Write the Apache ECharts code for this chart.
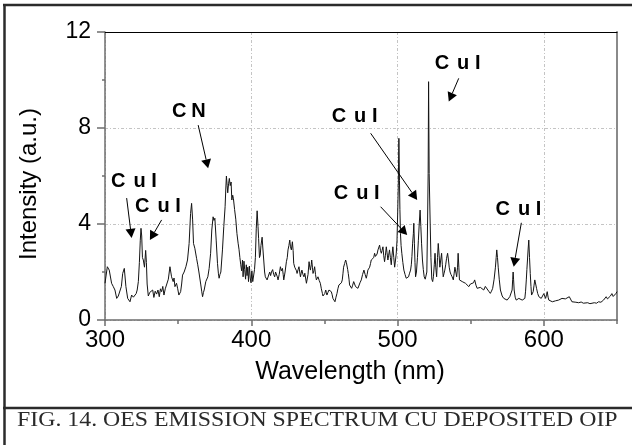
<!DOCTYPE html>
<html>
<head>
<meta charset="utf-8">
<script src="https://cdn.jsdelivr.net/npm/echarts@6/dist/echarts.min.js"></script>
<style>
  html, body { margin: 0; padding: 0; background: #fff; }
  #chart { width: 632px; height: 445px; }
</style>
</head>
<body>
<div id="chart"></div>
<script>
// OES spectrum: wavelength (nm) and intensity (a.u.)
const wavelength = [
  300.0, 301.6, 302.9, 304.5, 305.6, 306.8, 308.0, 309.1, 310.2, 311.2, 312.1, 313.2, 314.3, 315.5, 316.3, 317.1, 318.2, 319.4, 320.5, 321.3,
  322.0, 322.8, 323.5, 324.1, 324.6, 325.1, 325.6, 326.2, 327.0, 327.8, 328.3, 328.8, 329.6, 330.6, 331.9, 332.6, 333.4, 334.3, 335.3, 336.2,
  337.1, 337.9, 338.7, 339.5, 340.3, 341.2, 342.1, 343.3, 344.4, 345.5, 346.6, 347.2, 347.8, 348.9, 349.7, 350.5, 351.7, 352.4, 353.0, 354.1,
  355.3, 356.4, 357.5, 358.5, 359.2, 359.9, 360.5, 361.4, 362.0, 362.6, 363.4, 364.2, 365.5, 366.1, 366.7, 367.3, 367.8, 368.9, 369.6, 370.3,
  371.2, 372.2, 373.0, 373.9, 374.5, 375.1, 376.0, 376.9, 377.5, 378.0, 378.6, 379.2, 380.3, 381.2, 382.1, 382.6, 383.0, 383.5, 383.9, 384.5,
  385.0, 385.6, 386.2, 386.7, 387.3, 387.8, 388.6, 389.4, 390.2, 391.0, 391.6, 392.2, 392.8, 393.4, 394.0, 394.4, 395.0, 395.5, 396.1, 396.6,
  397.1, 397.6, 398.1, 398.7, 399.3, 399.8, 400.4, 401.0, 401.6, 402.2, 402.8, 403.4, 404.0, 404.6, 405.0, 405.6, 406.1, 406.6, 407.4, 407.9,
  408.5, 409.1, 409.6, 410.2, 410.8, 411.6, 412.6, 413.2, 413.8, 414.6, 415.3, 416.0, 416.6, 417.2, 417.8, 418.3, 419.1, 419.9, 420.6, 421.3,
  421.8, 422.2, 423.1, 424.0, 424.6, 425.1, 425.7, 426.3, 426.8, 427.4, 428.1, 428.6, 429.0, 429.7, 430.4, 430.9, 431.3, 432.0, 432.6, 433.1,
  433.6, 434.1, 434.6, 435.3, 436.0, 436.6, 437.2, 437.7, 438.1, 438.8, 439.5, 440.0, 440.4, 441.0, 441.3, 441.8, 442.2, 442.8, 443.3, 443.9,
  444.5, 445.1, 445.6, 446.4, 447.2, 447.9, 448.6, 449.0, 449.5, 450.2, 450.9, 451.3, 451.7, 452.4, 453.1, 453.9, 454.7, 455.3, 455.8, 456.5,
  457.2, 457.9, 458.6, 459.2, 459.9, 460.4, 460.9, 461.6, 462.2, 462.7, 463.1, 463.8, 464.5, 465.0, 465.4, 465.9, 466.3, 466.8, 467.2, 467.9,
  468.6, 469.3, 470.0, 470.6, 471.3, 472.1, 472.9, 473.5, 474.3, 475.2, 476.1, 477.0, 477.8, 478.6, 479.2, 479.7, 480.3, 480.9, 481.5, 482.0,
  482.6, 483.1, 483.7, 484.3, 484.9, 485.5, 486.0, 486.6, 487.1, 487.7, 488.3, 488.9, 489.4, 490.0, 490.5, 491.1, 491.7, 492.3, 492.8, 493.4,
  493.9, 494.5, 495.1, 495.7, 496.2, 496.8, 497.4, 498.0, 498.6, 499.1, 499.6, 500.1, 500.5, 500.9, 501.3, 501.6, 502.0, 502.4, 502.9, 503.6,
  504.3, 505.1, 505.9, 506.7, 507.5, 508.2, 508.9, 509.4, 509.8, 510.3, 510.8, 511.1, 511.5, 511.9, 512.3, 512.9, 513.6, 514.2, 514.8, 515.4,
  515.9, 516.4, 517.0, 517.6, 518.2, 518.9, 519.5, 520.0, 520.5, 520.9, 521.2, 521.6, 522.3, 522.8, 523.4, 524.0, 524.5, 525.1, 525.6, 526.1,
  526.7, 527.3, 527.8, 528.4, 528.9, 529.5, 530.1, 530.6, 531.2, 531.8, 532.3, 532.9, 533.5, 534.2, 534.8, 535.3, 535.9, 536.5, 537.3, 538.1,
  538.7, 539.2, 539.8, 540.4, 541.0, 541.4, 541.9, 542.3, 543.2, 544.2, 545.3, 546.4, 547.5, 548.7, 549.8, 551.0, 551.9, 552.7, 553.6, 554.4,
  555.5, 556.6, 557.8, 558.9, 560.0, 561.2, 562.3, 563.4, 564.2, 565.0, 566.0, 566.9, 567.4, 567.8, 568.3, 568.8, 569.5, 570.3, 571.5, 572.6,
  573.8, 574.9, 575.8, 576.7, 577.5, 578.3, 578.7, 579.0, 579.3, 579.7, 580.4, 581.1, 582.0, 582.9, 584.1, 585.2, 586.1, 587.0, 587.5, 588.0,
  588.4, 588.8, 589.3, 589.7, 590.2, 590.7, 591.2, 591.6, 592.2, 592.7, 593.3, 593.8, 594.4, 595.0, 595.8, 596.6, 597.4, 598.2, 599.1, 600.0,
  600.6, 601.2, 601.8, 602.3, 602.9, 603.4, 604.6, 605.8, 606.9, 608.0, 609.0, 610.1, 611.2, 612.4, 613.5, 614.7, 615.8, 617.4, 618.3, 619.2,
  620.5, 621.9, 623.8, 625.5, 627.0, 628.3, 630.0, 631.5, 632.8, 634.5, 636.0, 637.4, 639.0, 640.8, 641.8, 642.6, 643.5, 644.4, 645.5, 646.5,
  647.4, 648.3, 649.2, 650.0
];
const intensity = [
  1.53, 2.22, 2.08, 1.53, 1.40, 1.25, 0.90, 1.00, 0.97, 1.40, 1.94, 2.15, 1.39, 0.90, 0.95, 0.76, 1.04, 0.95, 1.00, 1.10,
  1.25, 1.60, 2.40, 3.30, 3.82, 3.50, 2.60, 2.50, 2.20, 2.90, 2.40, 1.50, 1.00, 1.15, 1.11, 1.25, 0.94, 1.20, 1.08, 1.25,
  0.97, 1.30, 1.18, 1.40, 1.04, 1.30, 1.25, 1.70, 2.22, 1.80, 1.60, 1.75, 1.39, 1.53, 1.30, 1.04, 1.18, 1.50, 1.87, 2.00,
  2.22, 2.50, 3.19, 4.44, 4.86, 4.17, 3.19, 2.99, 3.05, 2.57, 2.30, 2.00, 1.46, 1.20, 0.97, 1.15, 1.25, 1.60, 1.55, 1.80,
  2.15, 2.78, 3.75, 4.30, 4.15, 4.24, 3.33, 2.36, 1.95, 1.74, 1.90, 2.00, 2.92, 3.89, 4.72, 5.50, 6.00, 5.60, 5.30, 5.70,
  5.90, 5.60, 5.75, 5.00, 5.20, 5.05, 4.60, 4.20, 3.60, 3.20, 2.95, 2.60, 2.30, 2.05, 2.50, 1.80, 2.45, 2.10, 1.70, 2.30,
  1.85, 2.20, 1.60, 2.25, 1.75, 1.55, 2.05, 1.60, 1.55, 2.10, 2.60, 3.80, 4.55, 3.90, 3.40, 2.60, 2.70, 3.10, 3.45, 3.00,
  2.50, 2.00, 1.80, 1.85, 1.67, 1.75, 2.00, 1.85, 2.00, 2.10, 1.90, 1.80, 2.00, 2.08, 1.80, 1.67, 1.90, 2.22, 2.05, 2.15,
  1.90, 1.67, 2.00, 2.43, 2.60, 2.92, 3.10, 3.33, 3.05, 2.92, 3.26, 2.90, 2.36, 2.20, 2.15, 2.05, 1.94, 2.10, 2.22, 2.00,
  1.80, 1.95, 2.08, 1.90, 1.80, 1.95, 1.87, 1.53, 1.46, 1.90, 2.43, 2.20, 2.08, 2.30, 2.50, 2.20, 1.94, 2.05, 2.22, 1.90,
  1.67, 1.70, 1.80, 1.65, 1.53, 1.30, 1.11, 1.00, 0.97, 1.10, 1.25, 1.15, 1.04, 1.15, 1.25, 1.20, 1.18, 1.05, 0.90, 0.85,
  0.76, 0.95, 1.11, 1.30, 1.46, 1.40, 1.46, 1.55, 1.67, 1.95, 2.20, 2.35, 2.50, 2.40, 2.36, 2.10, 1.94, 1.70, 1.46, 1.40,
  1.32, 1.45, 1.60, 1.50, 1.39, 1.45, 1.32, 1.40, 1.55, 1.67, 1.90, 2.08, 1.90, 1.74, 1.90, 2.08, 2.15, 2.20, 2.35, 2.50,
  2.45, 2.43, 2.60, 2.78, 2.65, 2.57, 2.75, 2.92, 3.00, 3.12, 2.90, 2.78, 2.90, 3.05, 2.70, 2.43, 2.70, 3.05, 2.80, 2.50,
  2.70, 2.92, 2.60, 2.30, 2.70, 3.05, 2.60, 2.20, 2.50, 2.78, 3.30, 4.50, 5.60, 7.57, 5.80, 4.60, 3.60, 3.10, 2.78, 2.40,
  2.08, 1.90, 1.74, 1.80, 1.80, 1.95, 2.08, 2.30, 2.64, 3.20, 3.60, 4.03, 3.20, 2.40, 1.80, 2.00, 2.60, 3.30, 4.00, 4.58,
  3.90, 3.20, 2.50, 2.10, 1.80, 1.70, 1.75, 2.00, 4.00, 6.10, 9.93, 6.10, 4.00, 2.60, 1.70, 1.60, 1.80, 2.30, 2.78, 2.20,
  1.80, 2.60, 3.19, 2.70, 2.20, 2.50, 2.78, 2.30, 1.80, 1.95, 2.08, 2.30, 2.57, 2.78, 2.50, 2.20, 2.00, 1.90, 1.80, 1.67,
  1.95, 2.20, 2.00, 1.80, 2.20, 2.78, 2.20, 1.67, 1.70, 1.60, 1.65, 1.53, 1.50, 1.39, 1.50, 1.46, 1.55, 1.67, 1.45, 1.32,
  1.40, 1.36, 1.30, 1.25, 1.40, 1.36, 1.20, 1.11, 1.20, 1.32, 1.70, 2.20, 2.60, 2.92, 2.60, 2.20, 1.70, 1.25, 1.00, 0.90,
  0.85, 0.83, 0.90, 0.97, 1.05, 1.25, 1.70, 2.00, 1.70, 1.25, 0.95, 0.83, 0.88, 0.90, 0.85, 0.83, 0.88, 0.90, 1.20, 1.67,
  2.10, 2.50, 3.00, 3.33, 2.60, 1.94, 1.40, 1.04, 1.10, 1.18, 1.45, 1.67, 1.50, 1.32, 1.10, 0.97, 0.92, 0.90, 0.95, 1.10,
  1.00, 0.90, 1.05, 1.18, 0.95, 0.83, 0.80, 0.76, 0.80, 0.80, 0.85, 0.83, 0.88, 0.90, 0.85, 0.88, 0.83, 0.97, 0.90, 0.76,
  0.80, 0.74, 0.72, 0.75, 0.70, 0.67, 0.72, 0.68, 0.69, 0.72, 0.70, 0.76, 0.74, 0.83, 0.80, 0.97, 0.88, 0.90, 1.00, 1.10,
  0.98, 1.00, 1.10, 1.18
];

// Axis ticks and labels
const xTicks = [300, 400, 500, 600];
const xMinorTicks = [350, 450, 550, 650];
const yTicks = [0, 4, 8, 12];
const yMinorTicks = [2, 6, 10];

// Line identifications: label anchor and arrow (start -> tip), in data units
const lineLabels = ['Cu I', 'Cu I', 'CN', 'Cu I', 'Cu I', 'Cu I', 'Cu I'];
const labelAt = [[319.8, 5.79], [336.2, 4.75], [357.3, 8.67], [470.6, 8.5], [472.0, 5.29], [541.0, 10.67], [582.6, 4.62]];
const arrowFrom = [[314.8, 5.08], [338.7, 4.17], [363.7, 8.12], [481.6, 7.78], [488.4, 4.72], [541.8, 10.07], [584.6, 4.05]];
const arrowTo = [[318.2, 3.42], [330.7, 3.33], [370.5, 6.32], [513.4, 5.0], [506.6, 3.54], [535.0, 9.1], [579.4, 2.22]];

const caption = 'FIG. 14. OES EMISSION SPECTRUM CU DEPOSITED OIP';

const SANS = '"Liberation Sans", Arial, sans-serif';
const SERIF = '"Liberation Serif", "Times New Roman", serif';
const AXIS_GRAY = '#6e6e6e';
const GRID_STYLE = { color: '#c4c4c4', width: 1, type: [3, 2, 1, 2] };

const chart = echarts.init(document.getElementById('chart'), null, { renderer: 'canvas' });
const spectrum = wavelength.map((w, i) => [w, intensity[i]]);

const xRange = { min: 300, max: 650 };
const yRange = { min: 0, max: 12 };

chart.setOption({
  animation: false,
  backgroundColor: '#fff',
  grid: { left: 105, right: 15, top: 32, bottom: 125, containLabel: false },
  xAxis: [
    {
      type: 'value', ...xRange, interval: 100, position: 'bottom',
      name: 'Wavelength (nm)', nameLocation: 'middle', nameGap: 40,
      nameTextStyle: { fontFamily: SANS, fontSize: 25, color: '#000', padding: [0, 22, 0, 0] },
      axisLine: { show: true, onZero: false, lineStyle: { color: AXIS_GRAY, width: 1.5 } },
      axisTick: { show: true, customValues: xTicks, length: 6, lineStyle: { color: AXIS_GRAY, width: 1.5 } },
      axisLabel: { customValues: xTicks, fontFamily: SANS, fontSize: 24, color: '#000', margin: 8 },
      splitLine: { show: true, lineStyle: GRID_STYLE }
    },
    {
      type: 'value', ...xRange, interval: 50, position: 'bottom',
      axisLine: { show: false },
      axisTick: { show: true, customValues: xMinorTicks, length: 4, lineStyle: { color: AXIS_GRAY, width: 1.5 } },
      axisLabel: { show: false },
      splitLine: { show: false }
    },
    {
      type: 'value', ...xRange, interval: 100, position: 'top',
      axisLine: { show: true, onZero: false, lineStyle: { color: '#000', width: 1 } },
      axisTick: { show: false }, axisLabel: { show: false }, splitLine: { show: false }
    }
  ],
  yAxis: [
    {
      type: 'value', ...yRange, interval: 4, position: 'left',
      name: 'Intensity (a.u.)', nameLocation: 'middle', nameGap: 64,
      nameTextStyle: { fontFamily: SANS, fontSize: 24, color: '#000', padding: [0, 16, 0, 0] },
      axisLine: { show: true, onZero: false, lineStyle: { color: AXIS_GRAY, width: 1.5 } },
      axisTick: { show: true, customValues: yTicks, length: 8, lineStyle: { color: AXIS_GRAY, width: 1.5 } },
      axisLabel: { customValues: yTicks, fontFamily: SANS, fontSize: 23, color: '#000', margin: 14 },
      splitLine: { show: true, lineStyle: GRID_STYLE }
    },
    {
      type: 'value', ...yRange, interval: 2, position: 'left',
      axisLine: { show: false },
      axisTick: { show: true, customValues: yMinorTicks, length: 3, lineStyle: { color: AXIS_GRAY, width: 1.5 } },
      axisLabel: { show: false },
      splitLine: { show: false }
    },
    {
      type: 'value', ...yRange, interval: 4, position: 'right',
      axisLine: { show: true, onZero: false, lineStyle: { color: '#8a8a8a', width: 2 } },
      axisTick: { show: false }, axisLabel: { show: false }, splitLine: { show: false }
    }
  ],
  series: [
    {
      type: 'line',
      xAxisIndex: 0, yAxisIndex: 0,
      data: spectrum,
      showSymbol: false,
      symbol: 'none',
      sampling: null,
      lineStyle: { color: '#141414', width: 1 },
      z: 3
    }
  ]
});

// Annotations placed through the axes' own scales
function toPx(p) { return chart.convertToPixel({ xAxisIndex: 0, yAxisIndex: 0 }, p); }

const graphics = [];

// figure frame and caption rule
graphics.push({ type: 'line', shape: { x1: 3, y1: 5, x2: 632, y2: 5 }, style: { stroke: '#2b2b2b', lineWidth: 2.5 }, z: 10 });
graphics.push({ type: 'line', shape: { x1: 4.5, y1: 4, x2: 4.5, y2: 445 }, style: { stroke: '#2b2b2b', lineWidth: 2.5 }, z: 10 });
graphics.push({ type: 'line', shape: { x1: 3, y1: 408, x2: 632, y2: 408 }, style: { stroke: '#2b2b2b', lineWidth: 2.5 }, z: 10 });
graphics.push({
  type: 'text', x: 17, y: 420, scaleX: 1.135, z: 10,
  style: { text: caption, font: '21px ' + SERIF, fill: '#2a2a2a', align: 'left', verticalAlign: 'middle' }
});

const LABEL_FONT = { fontFamily: SANS, fontSize: 20, fontWeight: 'bold' };
lineLabels.forEach((t, i) => {
  const p = toPx(labelAt[i]);
  const gap = t.indexOf(' ') >= 0 ? 8 : 5;
  graphics.push({
    type: 'text', x: p[0], y: p[1], z: 20,
    style: {
      text: '{a|' + t.charAt(0) + '}{b|' + t.slice(1) + '}',
      rich: {
        a: Object.assign({ padding: [0, gap, 0, 0], fill: '#000' }, LABEL_FONT),
        b: Object.assign({ fill: '#000' }, LABEL_FONT)
      },
      ...LABEL_FONT, fill: '#000', align: 'center', verticalAlign: 'middle'
    }
  });
  const a = toPx(arrowFrom[i]);
  const b = toPx(arrowTo[i]);
  const dx = b[0] - a[0], dy = b[1] - a[1];
  const len = Math.hypot(dx, dy);
  const ux = dx / len, uy = dy / len;
  const headLen = 9, headHalf = 5;
  const bx = b[0] - ux * headLen, by = b[1] - uy * headLen;
  graphics.push({
    type: 'line', z: 20,
    shape: { x1: a[0], y1: a[1], x2: bx, y2: by },
    style: { stroke: '#000', lineWidth: 1 }
  });
  graphics.push({
    type: 'polygon', z: 20,
    shape: { points: [[b[0], b[1]], [bx - uy * headHalf, by + ux * headHalf], [bx + uy * headHalf, by - ux * headHalf]] },
    style: { fill: '#000' }
  });
});

chart.setOption({ graphic: graphics });
</script>
</body>
</html>
